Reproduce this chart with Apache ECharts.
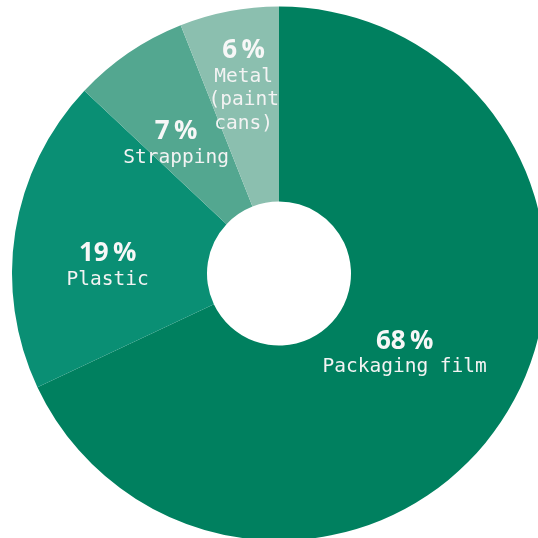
<!DOCTYPE html>
<html>
<head>
<meta charset="utf-8">
<script src="https://cdn.jsdelivr.net/npm/echarts@6/dist/echarts.min.js"></script>
<style>html,body{margin:0;padding:0;background:#fff;}#c{width:538px;height:538px;}</style>
</head>
<body>
<div id="c"></div>
<script>
var categories = ['Packaging film', 'Plastic', 'Strapping', 'Metal\n(paint\ncans)'];
var values = [68, 19, 7, 6];
var colors = ['#00805f', '#0a8f74', '#53a790', '#8bbfaf'];
var labelOffsets = [[-20, -13], [-1, 19], [-6, 13], [-3, -18]];

var chart = echarts.init(document.getElementById('c'), null, {renderer: 'canvas'});
var data = categories.map(function (c, i) {
  return {
    name: c,
    value: values[i],
    itemStyle: {color: colors[i]},
    label: {offset: labelOffsets[i]}
  };
});
chart.setOption({
  animation: false,
  series: [{
    type: 'pie',
    center: [279, 273.5],
    radius: [72, 267],
    startAngle: 90,
    clockwise: true,
    avoidLabelOverlap: false,
    minShowLabelAngle: 0,
    labelLayout: {hideOverlap: false},
    itemStyle: {borderWidth: 0},
    label: {
      show: true,
      position: 'inside',
      overflow: 'none',
      formatter: function (p) {
        var lines = p.name.split('\n').map(function (l) { return '{l|' + l + '}'; });
        return '{p|' + p.value + '\u2009%}\n' + lines.join('\n');
      },
      rich: {
        p: {fontFamily: 'Open Sans', fontWeight: 'bold', fontSize: 26, color: '#f7f7f7', lineHeight: 28, align: 'center'},
        l: {fontFamily: 'DejaVu Sans Mono', fontSize: 19.5, color: '#f3f3f3', lineHeight: 23.5, align: 'center'}
      }
    },
    labelLine: {show: false},
    data: data
  }]
});
</script>
</body>
</html>
